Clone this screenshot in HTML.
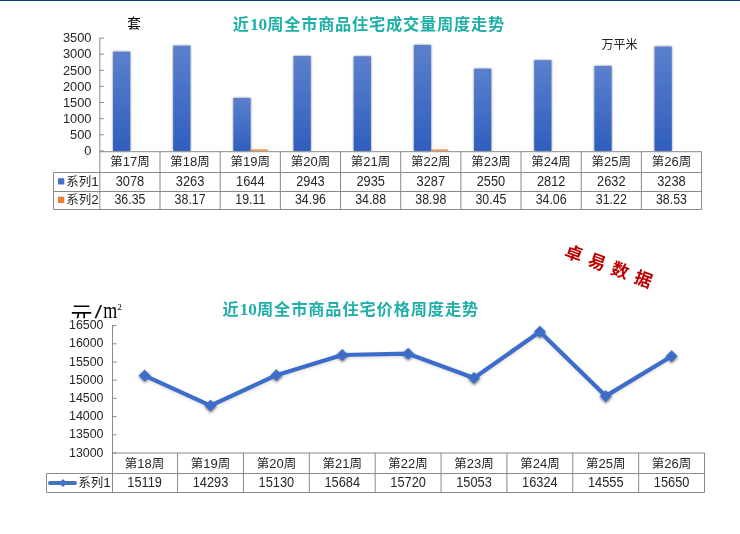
<!DOCTYPE html><html><head><meta charset="utf-8"><style>
html,body{margin:0;padding:0;background:#fff;width:740px;height:534px;overflow:hidden}
svg{display:block;will-change:transform}
text{font-family:"Liberation Sans","Noto Sans CJK SC",sans-serif;fill:#262626}
.t{font-family:"Liberation Serif","Noto Sans CJK SC",serif;font-weight:bold;fill:#20afa8;font-size:17.3px}.c{font-size:16.2px;letter-spacing:0.9px}
</style></head><body>
<svg width="740" height="534" viewBox="0 0 740 534">
<defs><linearGradient id="bg" x1="0" y1="0" x2="0" y2="1"><stop offset="0" stop-color="#5b80cd"/><stop offset="1" stop-color="#2f5ebd"/></linearGradient><filter id="sh" x="-50%" y="-50%" width="200%" height="200%"><feGaussianBlur in="SourceAlpha" stdDeviation="1.6"/><feOffset dx="0.2" dy="1.3" result="o"/><feComponentTransfer><feFuncA type="linear" slope="0.5"/></feComponentTransfer><feMerge><feMergeNode/><feMergeNode in="SourceGraphic"/></feMerge></filter><filter id="sb" x="-50%" y="-10%" width="200%" height="120%"><feGaussianBlur in="SourceAlpha" stdDeviation="1.2"/><feOffset dx="0.2" dy="0.3" result="o"/><feComponentTransfer><feFuncA type="linear" slope="0.55"/></feComponentTransfer><feMerge><feMergeNode/><feMergeNode in="SourceGraphic"/></feMerge></filter><filter id="bl" x="-10%" y="-10%" width="120%" height="120%"><feGaussianBlur stdDeviation="1.4"/></filter><clipPath id="yc"><rect x="0" y="290" width="200" height="28.3"/></clipPath></defs>
<rect x="0" y="0" width="740" height="1" fill="#0b3a8b"/>
<text x="127.2" y="28" style="font-size:13.6px;fill:#000">套</text>
<text class="t" x="232.8" y="30.3"><tspan class="c">近</tspan>10<tspan class="c" style="letter-spacing:0.8px">周全市商品住宅成交量周度走势</tspan></text>
<text x="601.5" y="48.5" style="font-size:12px">万平米</text>
<text transform="matrix(0.99,0,0,1,91.50,155.20)" text-anchor="end" style="font-size:13px">0</text>
<line x1="99.85" y1="150.9" x2="103.85" y2="150.9" stroke="#8a8a8a" stroke-width="1"/>
<text transform="matrix(0.99,0,0,1,91.50,139.08)" text-anchor="end" style="font-size:13px">500</text>
<line x1="99.85" y1="134.8" x2="103.85" y2="134.8" stroke="#8a8a8a" stroke-width="1"/>
<text transform="matrix(0.99,0,0,1,91.50,122.96)" text-anchor="end" style="font-size:13px">1000</text>
<line x1="99.85" y1="118.7" x2="103.85" y2="118.7" stroke="#8a8a8a" stroke-width="1"/>
<text transform="matrix(0.99,0,0,1,91.50,106.84)" text-anchor="end" style="font-size:13px">1500</text>
<line x1="99.85" y1="102.5" x2="103.85" y2="102.5" stroke="#8a8a8a" stroke-width="1"/>
<text transform="matrix(0.99,0,0,1,91.50,90.72)" text-anchor="end" style="font-size:13px">2000</text>
<line x1="99.85" y1="86.4" x2="103.85" y2="86.4" stroke="#8a8a8a" stroke-width="1"/>
<text transform="matrix(0.99,0,0,1,91.50,74.60)" text-anchor="end" style="font-size:13px">2500</text>
<line x1="99.85" y1="70.3" x2="103.85" y2="70.3" stroke="#8a8a8a" stroke-width="1"/>
<text transform="matrix(0.99,0,0,1,91.50,58.48)" text-anchor="end" style="font-size:13px">3000</text>
<line x1="99.85" y1="54.2" x2="103.85" y2="54.2" stroke="#8a8a8a" stroke-width="1"/>
<text transform="matrix(0.99,0,0,1,91.50,42.36)" text-anchor="end" style="font-size:13px">3500</text>
<line x1="99.85" y1="38.1" x2="103.85" y2="38.1" stroke="#8a8a8a" stroke-width="1"/>
<rect x="113.05" y="51.67" width="17.2" height="99.23" fill="url(#bg)" filter="url(#sb)"/>
<rect x="173.22" y="45.70" width="17.2" height="105.20" fill="url(#bg)" filter="url(#sb)"/>
<rect x="233.39" y="97.90" width="17.2" height="53.00" fill="url(#bg)" filter="url(#sb)"/>
<rect x="293.56" y="56.02" width="17.2" height="94.88" fill="url(#bg)" filter="url(#sb)"/>
<rect x="353.73" y="56.28" width="17.2" height="94.62" fill="url(#bg)" filter="url(#sb)"/>
<rect x="413.90" y="44.93" width="17.2" height="105.97" fill="url(#bg)" filter="url(#sb)"/>
<rect x="474.07" y="68.69" width="17.2" height="82.21" fill="url(#bg)" filter="url(#sb)"/>
<rect x="534.24" y="60.24" width="17.2" height="90.66" fill="url(#bg)" filter="url(#sb)"/>
<rect x="594.41" y="66.04" width="17.2" height="84.86" fill="url(#bg)" filter="url(#sb)"/>
<rect x="654.58" y="46.51" width="17.2" height="104.39" fill="url(#bg)" filter="url(#sb)"/>
<rect x="250.59" y="149.30" width="17.2" height="1.6" fill="#ed7d31" opacity="0.85"/>
<rect x="431.10" y="149.30" width="17.2" height="1.6" fill="#ed7d31" opacity="0.85"/>
<line x1="99.85" y1="37.6" x2="99.85" y2="151.7" stroke="#8a8a8a" stroke-width="1"/>
<g stroke="#8a8a8a" stroke-width="1" fill="none">
<line x1="99.85" y1="151.7" x2="701.5500000000001" y2="151.7"/>
<line x1="53.5" y1="172.5" x2="701.5500000000001" y2="172.5"/>
<line x1="53.5" y1="191.5" x2="701.5500000000001" y2="191.5"/>
<line x1="53.5" y1="209.5" x2="701.5500000000001" y2="209.5"/>
<line x1="53.5" y1="172.5" x2="53.5" y2="209.5"/>
<line x1="99.85" y1="151.7" x2="99.85" y2="209.5"/>
<line x1="160.02" y1="151.5" x2="160.02" y2="209.5"/>
<line x1="220.19" y1="151.5" x2="220.19" y2="209.5"/>
<line x1="280.36" y1="151.5" x2="280.36" y2="209.5"/>
<line x1="340.53" y1="151.5" x2="340.53" y2="209.5"/>
<line x1="400.7" y1="151.5" x2="400.7" y2="209.5"/>
<line x1="460.87" y1="151.5" x2="460.87" y2="209.5"/>
<line x1="521.04" y1="151.5" x2="521.04" y2="209.5"/>
<line x1="581.21" y1="151.5" x2="581.21" y2="209.5"/>
<line x1="641.38" y1="151.5" x2="641.38" y2="209.5"/>
<line x1="701.55" y1="151.5" x2="701.55" y2="209.5"/>
</g>
<text x="129.9" y="166" text-anchor="middle" style="font-size:12.5px">第<tspan style="font-size:13px">17</tspan>周</text>
<text transform="matrix(0.915,0,0,1,129.94,186.00)" text-anchor="middle" style="font-size:14px">3078</text>
<text transform="matrix(0.885,0,0,1,129.94,204.30)" text-anchor="middle" style="font-size:14px">36.35</text>
<text x="190.1" y="166" text-anchor="middle" style="font-size:12.5px">第<tspan style="font-size:13px">18</tspan>周</text>
<text transform="matrix(0.915,0,0,1,190.10,186.00)" text-anchor="middle" style="font-size:14px">3263</text>
<text transform="matrix(0.885,0,0,1,190.10,204.30)" text-anchor="middle" style="font-size:14px">38.17</text>
<text x="250.3" y="166" text-anchor="middle" style="font-size:12.5px">第<tspan style="font-size:13px">19</tspan>周</text>
<text transform="matrix(0.915,0,0,1,250.28,186.00)" text-anchor="middle" style="font-size:14px">1644</text>
<text transform="matrix(0.885,0,0,1,250.28,204.30)" text-anchor="middle" style="font-size:14px">19.11</text>
<text x="310.4" y="166" text-anchor="middle" style="font-size:12.5px">第<tspan style="font-size:13px">20</tspan>周</text>
<text transform="matrix(0.915,0,0,1,310.44,186.00)" text-anchor="middle" style="font-size:14px">2943</text>
<text transform="matrix(0.885,0,0,1,310.44,204.30)" text-anchor="middle" style="font-size:14px">34.96</text>
<text x="370.6" y="166" text-anchor="middle" style="font-size:12.5px">第<tspan style="font-size:13px">21</tspan>周</text>
<text transform="matrix(0.915,0,0,1,370.62,186.00)" text-anchor="middle" style="font-size:14px">2935</text>
<text transform="matrix(0.885,0,0,1,370.62,204.30)" text-anchor="middle" style="font-size:14px">34.88</text>
<text x="430.8" y="166" text-anchor="middle" style="font-size:12.5px">第<tspan style="font-size:13px">22</tspan>周</text>
<text transform="matrix(0.915,0,0,1,430.78,186.00)" text-anchor="middle" style="font-size:14px">3287</text>
<text transform="matrix(0.885,0,0,1,430.78,204.30)" text-anchor="middle" style="font-size:14px">38.98</text>
<text x="491.0" y="166" text-anchor="middle" style="font-size:12.5px">第<tspan style="font-size:13px">23</tspan>周</text>
<text transform="matrix(0.915,0,0,1,490.96,186.00)" text-anchor="middle" style="font-size:14px">2550</text>
<text transform="matrix(0.885,0,0,1,490.96,204.30)" text-anchor="middle" style="font-size:14px">30.45</text>
<text x="551.1" y="166" text-anchor="middle" style="font-size:12.5px">第<tspan style="font-size:13px">24</tspan>周</text>
<text transform="matrix(0.915,0,0,1,551.12,186.00)" text-anchor="middle" style="font-size:14px">2812</text>
<text transform="matrix(0.885,0,0,1,551.12,204.30)" text-anchor="middle" style="font-size:14px">34.06</text>
<text x="611.3" y="166" text-anchor="middle" style="font-size:12.5px">第<tspan style="font-size:13px">25</tspan>周</text>
<text transform="matrix(0.915,0,0,1,611.29,186.00)" text-anchor="middle" style="font-size:14px">2632</text>
<text transform="matrix(0.885,0,0,1,611.29,204.30)" text-anchor="middle" style="font-size:14px">31.22</text>
<text x="671.5" y="166" text-anchor="middle" style="font-size:12.5px">第<tspan style="font-size:13px">26</tspan>周</text>
<text transform="matrix(0.915,0,0,1,671.47,186.00)" text-anchor="middle" style="font-size:14px">3238</text>
<text transform="matrix(0.885,0,0,1,671.47,204.30)" text-anchor="middle" style="font-size:14px">38.53</text>
<rect x="58" y="178.2" width="6.3" height="6.3" fill="#4472c4"/>
<rect x="58" y="196.7" width="6.3" height="6.3" fill="#ed7d31"/>
<text x="66.3" y="186" style="font-size:12.5px">系列<tspan style="font-size:13.5px">1</tspan></text>
<text x="66.3" y="204.3" style="font-size:12.5px">系列<tspan style="font-size:13.5px">2</tspan></text>
<g transform="translate(563.5,256.2) rotate(20.3)"><text x="0" y="0" style="font-size:17.5px;font-weight:bold;letter-spacing:7.2px;fill:#c00000">卓易数据</text></g>
<g clip-path="url(#yc)"><text x="70.6" y="321.8" style="font-size:22px;fill:#000;font-family:'Noto Sans CJK SC',sans-serif">元</text><text transform="matrix(1,0,-0.17,1,94.2,318.6)" style="font-size:19px;fill:#000;font-family:'Liberation Sans',sans-serif;stroke:#000;stroke-width:0.35">/</text><text transform="matrix(0.8,0,0,1,103.2,318)" style="font-size:22.5px;fill:#000;font-family:'Liberation Serif',serif">m</text><text x="117.3" y="310.4" style="font-size:9.2px;fill:#000;font-family:'Liberation Serif',serif">2</text></g>
<text class="t" x="222.6" y="314.5"><tspan class="c">近</tspan>10<tspan class="c">周全市商品住宅价格周度走势</tspan></text>
<text transform="matrix(0.955,0,0,1,103.50,456.60)" text-anchor="end" style="font-size:13px">13000</text>
<line x1="112.5" y1="453.0" x2="116.5" y2="453.0" stroke="#8a8a8a" stroke-width="1"/>
<text transform="matrix(0.955,0,0,1,103.50,438.40)" text-anchor="end" style="font-size:13px">13500</text>
<line x1="112.5" y1="434.8" x2="116.5" y2="434.8" stroke="#8a8a8a" stroke-width="1"/>
<text transform="matrix(0.955,0,0,1,103.50,420.20)" text-anchor="end" style="font-size:13px">14000</text>
<line x1="112.5" y1="416.6" x2="116.5" y2="416.6" stroke="#8a8a8a" stroke-width="1"/>
<text transform="matrix(0.955,0,0,1,103.50,402.00)" text-anchor="end" style="font-size:13px">14500</text>
<line x1="112.5" y1="398.4" x2="116.5" y2="398.4" stroke="#8a8a8a" stroke-width="1"/>
<text transform="matrix(0.955,0,0,1,103.50,383.80)" text-anchor="end" style="font-size:13px">15000</text>
<line x1="112.5" y1="380.2" x2="116.5" y2="380.2" stroke="#8a8a8a" stroke-width="1"/>
<text transform="matrix(0.955,0,0,1,103.50,365.60)" text-anchor="end" style="font-size:13px">15500</text>
<line x1="112.5" y1="362.0" x2="116.5" y2="362.0" stroke="#8a8a8a" stroke-width="1"/>
<text transform="matrix(0.955,0,0,1,103.50,347.40)" text-anchor="end" style="font-size:13px">16000</text>
<line x1="112.5" y1="343.8" x2="116.5" y2="343.8" stroke="#8a8a8a" stroke-width="1"/>
<text transform="matrix(0.955,0,0,1,103.50,329.20)" text-anchor="end" style="font-size:13px">16500</text>
<line x1="112.5" y1="325.6" x2="116.5" y2="325.6" stroke="#8a8a8a" stroke-width="1"/>
<line x1="112.5" y1="325" x2="112.5" y2="492.5" stroke="#8a8a8a" stroke-width="1"/>
<g stroke="#8a8a8a" stroke-width="1" fill="none">
<line x1="112.5" y1="453" x2="704.5300000000001" y2="453"/>
<line x1="46.5" y1="473.5" x2="704.5300000000001" y2="473.5"/>
<line x1="46.5" y1="492.5" x2="704.5300000000001" y2="492.5"/>
<line x1="46.5" y1="473.5" x2="46.5" y2="492.5"/>
<line x1="177.57" y1="453" x2="177.57" y2="492.5"/>
<line x1="243.44" y1="453" x2="243.44" y2="492.5"/>
<line x1="309.31" y1="453" x2="309.31" y2="492.5"/>
<line x1="375.18" y1="453" x2="375.18" y2="492.5"/>
<line x1="441.05" y1="453" x2="441.05" y2="492.5"/>
<line x1="506.92" y1="453" x2="506.92" y2="492.5"/>
<line x1="572.79" y1="453" x2="572.79" y2="492.5"/>
<line x1="638.66" y1="453" x2="638.66" y2="492.5"/>
<line x1="704.53" y1="453" x2="704.53" y2="492.5"/>
</g>
<text x="144.6" y="468" text-anchor="middle" style="font-size:12.5px">第<tspan style="font-size:13px">18</tspan>周</text>
<text transform="matrix(0.915,0,0,1,144.63,487.00)" text-anchor="middle" style="font-size:14px">15119</text>
<text x="210.5" y="468" text-anchor="middle" style="font-size:12.5px">第<tspan style="font-size:13px">19</tspan>周</text>
<text transform="matrix(0.915,0,0,1,210.50,487.00)" text-anchor="middle" style="font-size:14px">14293</text>
<text x="276.4" y="468" text-anchor="middle" style="font-size:12.5px">第<tspan style="font-size:13px">20</tspan>周</text>
<text transform="matrix(0.915,0,0,1,276.38,487.00)" text-anchor="middle" style="font-size:14px">15130</text>
<text x="342.2" y="468" text-anchor="middle" style="font-size:12.5px">第<tspan style="font-size:13px">21</tspan>周</text>
<text transform="matrix(0.915,0,0,1,342.25,487.00)" text-anchor="middle" style="font-size:14px">15684</text>
<text x="408.1" y="468" text-anchor="middle" style="font-size:12.5px">第<tspan style="font-size:13px">22</tspan>周</text>
<text transform="matrix(0.915,0,0,1,408.12,487.00)" text-anchor="middle" style="font-size:14px">15720</text>
<text x="474.0" y="468" text-anchor="middle" style="font-size:12.5px">第<tspan style="font-size:13px">23</tspan>周</text>
<text transform="matrix(0.915,0,0,1,473.99,487.00)" text-anchor="middle" style="font-size:14px">15053</text>
<text x="539.9" y="468" text-anchor="middle" style="font-size:12.5px">第<tspan style="font-size:13px">24</tspan>周</text>
<text transform="matrix(0.915,0,0,1,539.86,487.00)" text-anchor="middle" style="font-size:14px">16324</text>
<text x="605.7" y="468" text-anchor="middle" style="font-size:12.5px">第<tspan style="font-size:13px">25</tspan>周</text>
<text transform="matrix(0.915,0,0,1,605.73,487.00)" text-anchor="middle" style="font-size:14px">14555</text>
<text x="671.6" y="468" text-anchor="middle" style="font-size:12.5px">第<tspan style="font-size:13px">26</tspan>周</text>
<text transform="matrix(0.915,0,0,1,671.60,487.00)" text-anchor="middle" style="font-size:14px">15650</text>
<g filter="url(#bl)" transform="translate(0.2,1.2)">
<polyline points="144.6,375.6 210.5,405.6 276.4,375.2 342.2,355.0 408.1,353.7 474.0,378.0 539.9,331.7 605.7,396.1 671.6,356.2" fill="none" stroke="#000" stroke-opacity="0.13" stroke-width="4.6" stroke-linejoin="round"/>
<path d="M144.63 369.47 L150.73 375.57 L144.63 381.67 L138.53 375.57Z" fill="#000" fill-opacity="0.55"/>
<path d="M210.50 399.53 L216.60 405.63 L210.50 411.73 L204.41 405.63Z" fill="#000" fill-opacity="0.55"/>
<path d="M276.38 369.07 L282.48 375.17 L276.38 381.27 L270.27 375.17Z" fill="#000" fill-opacity="0.55"/>
<path d="M342.25 348.90 L348.35 355.00 L342.25 361.10 L336.14 355.00Z" fill="#000" fill-opacity="0.55"/>
<path d="M408.12 347.59 L414.22 353.69 L408.12 359.79 L402.01 353.69Z" fill="#000" fill-opacity="0.55"/>
<path d="M473.99 371.87 L480.09 377.97 L473.99 384.07 L467.88 377.97Z" fill="#000" fill-opacity="0.55"/>
<path d="M539.86 325.61 L545.96 331.71 L539.86 337.81 L533.75 331.71Z" fill="#000" fill-opacity="0.55"/>
<path d="M605.73 390.00 L611.83 396.10 L605.73 402.20 L599.62 396.10Z" fill="#000" fill-opacity="0.55"/>
<path d="M671.60 350.14 L677.70 356.24 L671.60 362.34 L665.50 356.24Z" fill="#000" fill-opacity="0.55"/>
</g>
<polyline points="144.6,375.6 210.5,405.6 276.4,375.2 342.2,355.0 408.1,353.7 474.0,378.0 539.9,331.7 605.7,396.1 671.6,356.2" fill="none" stroke="#3d6dca" stroke-width="4.2" stroke-linejoin="round"/>
<path d="M144.63 369.67 L150.53 375.57 L144.63 381.47 L138.73 375.57Z" fill="#3d6dca"/>
<path d="M210.50 399.73 L216.41 405.63 L210.50 411.53 L204.60 405.63Z" fill="#3d6dca"/>
<path d="M276.38 369.27 L282.27 375.17 L276.38 381.07 L270.48 375.17Z" fill="#3d6dca"/>
<path d="M342.25 349.10 L348.14 355.00 L342.25 360.90 L336.35 355.00Z" fill="#3d6dca"/>
<path d="M408.12 347.79 L414.01 353.69 L408.12 359.59 L402.22 353.69Z" fill="#3d6dca"/>
<path d="M473.99 372.07 L479.88 377.97 L473.99 383.87 L468.09 377.97Z" fill="#3d6dca"/>
<path d="M539.86 325.81 L545.75 331.71 L539.86 337.61 L533.96 331.71Z" fill="#3d6dca"/>
<path d="M605.73 390.20 L611.62 396.10 L605.73 402.00 L599.83 396.10Z" fill="#3d6dca"/>
<path d="M671.60 350.34 L677.50 356.24 L671.60 362.14 L665.70 356.24Z" fill="#3d6dca"/>
<line x1="50" y1="483" x2="75" y2="483" stroke="#4472c4" stroke-width="4" stroke-linecap="round"/>
<path d="M63 479 L67 483 L63 487 L59 483Z" fill="#4472c4"/>
<text x="78.2" y="487" style="font-size:12.5px">系列<tspan style="font-size:13.5px">1</tspan></text>
</svg></body></html>
